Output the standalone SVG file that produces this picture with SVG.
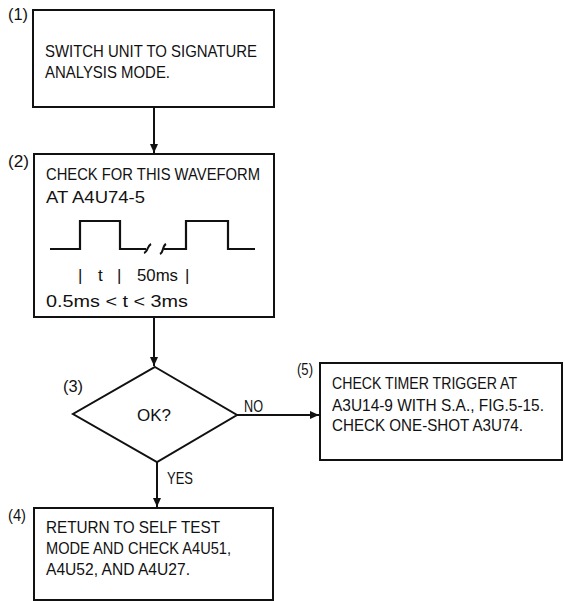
<svg xmlns="http://www.w3.org/2000/svg" width="565" height="601" viewBox="0 0 565 601">
<style>
.box{fill:#fff;stroke:#111;stroke-width:2}
.t{font-family:"Liberation Sans Narrow","Liberation Sans",Arial,sans-serif;font-size:17px;fill:#111}
.lbl{font-family:"Liberation Sans Narrow","Liberation Sans",Arial,sans-serif;font-size:17px;fill:#111}
.ln{fill:none;stroke:#111;stroke-width:2}
.wave{fill:none;stroke:#111;stroke-width:2.2;stroke-linejoin:miter}
</style>
<defs>
<marker id="arr" markerWidth="10" markerHeight="10" refX="9" refY="5" orient="auto" markerUnits="userSpaceOnUse">
<path d="M0,1 L9,5 L0,9 Z" fill="#111"/>
</marker>
</defs>
<rect width="565" height="601" fill="#fff"/>
<g id="connectors">
<line class="ln" x1="154" y1="107" x2="154" y2="153" marker-end="url(#arr)"/>
<line class="ln" x1="154" y1="317" x2="154" y2="366" marker-end="url(#arr)"/>
<line class="ln" x1="157" y1="462" x2="157" y2="507" marker-end="url(#arr)"/>
<line class="ln" x1="237" y1="415" x2="319" y2="415" marker-end="url(#arr)"/>
<text class="t" x="244" y="412" textLength="19" lengthAdjust="spacingAndGlyphs">NO</text>
<text class="t" x="167" y="484" textLength="26" lengthAdjust="spacingAndGlyphs">YES</text>
</g>
<g id="node1">
<text class="lbl" x="8" y="20" textLength="20" lengthAdjust="spacingAndGlyphs">(1)</text>
<rect class="box" x="33" y="10" width="241" height="97"/>
<text class="t" x="45" y="57" textLength="212" lengthAdjust="spacingAndGlyphs">SWITCH UNIT TO SIGNATURE</text>
<text class="t" x="45" y="78" textLength="125" lengthAdjust="spacingAndGlyphs">ANALYSIS MODE.</text>
</g>
<g id="node2">
<text class="lbl" x="8" y="167" textLength="21" lengthAdjust="spacingAndGlyphs">(2)</text>
<rect class="box" x="34" y="154" width="240" height="163"/>
<text class="t" x="46" y="180" textLength="214" lengthAdjust="spacingAndGlyphs">CHECK FOR THIS WAVEFORM</text>
<text class="t" x="46" y="203" textLength="99" lengthAdjust="spacingAndGlyphs">AT A4U74-5</text>
<path class="wave" d="M50,249 H80 V221 H120 V249 H146 M164,249 H186 V221 H228 V249 H255"/>
<path class="ln" stroke-width="1.5" d="M144,253 C148,252 147,246 151,244"/>
<path class="ln" stroke-width="1.5" d="M160,254 C164,252 162,246 166,244"/>
<text class="t" x="78" y="281">|</text>
<text class="t" x="98" y="281">t</text>
<text class="t" x="117" y="281">|</text>
<text class="t" x="137" y="281" textLength="41" lengthAdjust="spacingAndGlyphs">50ms</text>
<text class="t" x="185" y="281">|</text>
<text class="t" x="46" y="307" textLength="142" lengthAdjust="spacingAndGlyphs">0.5ms &lt; t &lt; 3ms</text>
</g>
<g id="node3">
<text class="lbl" x="63" y="392" textLength="20" lengthAdjust="spacingAndGlyphs">(3)</text>
<polygon class="box" points="155,367 237,415 157,462 73,414"/>
<text class="t" x="154" y="421" text-anchor="middle">OK?</text>
</g>
<g id="node4">
<text class="lbl" x="8" y="521" textLength="18" lengthAdjust="spacingAndGlyphs">(4)</text>
<rect class="box" x="34" y="508" width="239" height="92"/>
<text class="t" x="46" y="533" textLength="174" lengthAdjust="spacingAndGlyphs">RETURN TO SELF TEST</text>
<text class="t" x="46" y="554" textLength="185" lengthAdjust="spacingAndGlyphs">MODE AND CHECK A4U51,</text>
<text class="t" x="46" y="575" textLength="144" lengthAdjust="spacingAndGlyphs">A4U52, AND A4U27.</text>
</g>
<g id="node5">
<text class="lbl" x="297" y="375" textLength="16" lengthAdjust="spacingAndGlyphs">(5)</text>
<rect class="box" x="320" y="363" width="242" height="97"/>
<text class="t" x="332" y="389" textLength="185" lengthAdjust="spacingAndGlyphs">CHECK TIMER TRIGGER AT</text>
<text class="t" x="332" y="411" textLength="212" lengthAdjust="spacingAndGlyphs">A3U14-9 WITH S.A., FIG.5-15.</text>
<text class="t" x="332" y="431" textLength="191" lengthAdjust="spacingAndGlyphs">CHECK ONE-SHOT A3U74.</text>
</g>
</svg>
